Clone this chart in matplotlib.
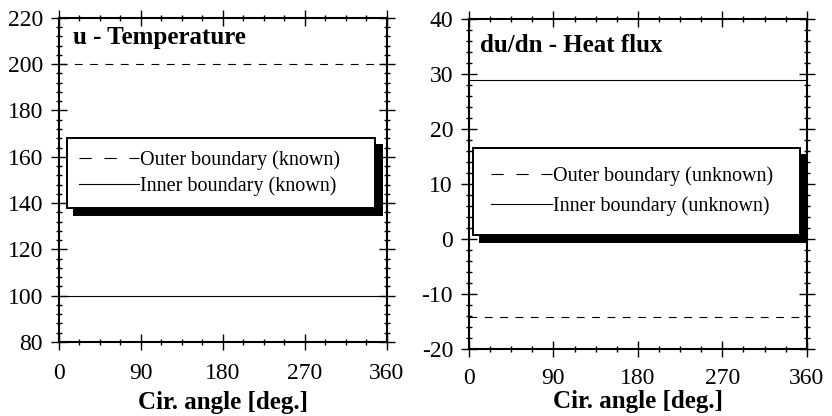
import matplotlib
matplotlib.use('Agg')
import matplotlib.pyplot as plt
from matplotlib.lines import Line2D
from matplotlib.ticker import MultipleLocator

plt.rcParams['font.family'] = ['Liberation Serif', 'DejaVu Serif']
plt.rcParams['axes.unicode_minus'] = False

# data
angle = [0, 360]
outer_u = [200, 200]
inner_u = [100, 100]
outer_q = [-14.2, -14.2]
inner_q = [29, 29]

x_ticks = [0, 90, 180, 270, 360]

fig = plt.figure(figsize=(8.32, 4.16), dpi=100)
ax1 = fig.add_axes([0.0709, 0.178, 0.394, 0.779])
ax2 = fig.add_axes([0.5637, 0.161, 0.406, 0.793])

TICK_FS = 17
LABEL_FS = 18
LEG_FS = 14.5


def style_axis(ax, ylim, ymajor, yminor, xpad, labelpad):
    ax.set_xlim(0, 360)
    ax.set_ylim(*ylim)
    ax.set_xticks(x_ticks)
    ax.xaxis.set_minor_locator(MultipleLocator(22.5))
    ax.yaxis.set_major_locator(MultipleLocator(ymajor))
    ax.yaxis.set_minor_locator(MultipleLocator(yminor))
    ax.tick_params(which='both', direction='inout', top=True, right=True,
                   labelsize=TICK_FS, width=1)
    ax.tick_params(which='major', length=11)
    ax.tick_params(which='minor', length=5)
    ax.tick_params(axis='x', which='major', pad=xpad)
    ax.tick_params(axis='y', which='major', pad=6)
    for s in ax.spines.values():
        s.set_linewidth(1.5)
    ax.set_xlabel("Cir. angle [deg.]", fontsize=LABEL_FS, fontweight='bold', labelpad=labelpad)


def boxed_legend(ax, labels, anchor, spacing, pad):
    # proxy handles: the legend dashes are longer than the plotted ones
    handles = [Line2D([], [], color='k', lw=0.8, dashes=(11, 11.5)),
               Line2D([], [], color='k', lw=0.8)]
    leg = ax.legend(handles, labels, loc='upper left', bbox_to_anchor=anchor, mode='expand',
                    fontsize=LEG_FS, handlelength=3.0, handletextpad=0.05,
                    labelspacing=spacing, borderpad=pad, borderaxespad=0,
                    fancybox=False, framealpha=1,
                    shadow={'ox': 5, 'oy': -5, 'facecolor': 'k', 'edgecolor': 'k', 'alpha': 1})
    leg.get_frame().set_edgecolor('k')
    leg.get_frame().set_linewidth(1.4)
    return leg


# left panel: temperature
ax1.plot(angle, outer_u, color='k', lw=0.8, dashes=(7, 6.8))
ax1.plot(angle, inner_u, color='k', lw=0.8)
style_axis(ax1, (80, 220), 20, 4, 10, 4.5)
ax1.text(0.043, 0.94, "u - Temperature", transform=ax1.transAxes, fontsize=LABEL_FS,
         fontweight='bold', va='center', ha='left')
boxed_legend(ax1, ["Outer boundary (known)", "Inner boundary (known)"],
             (0.024, 0.63, 0.94, 0.0), 0.35, 0.6)

# right panel: heat flux
ax2.plot(angle, outer_q, color='k', lw=0.8, dashes=(7, 6.8))
ax2.plot(angle, inner_q, color='k', lw=0.8)
style_axis(ax2, (-20, 40), 10, 2, 8, 1)
ax2.text(0.033, 0.92, "du/dn - Heat flux", transform=ax2.transAxes, fontsize=LABEL_FS,
         fontweight='bold', va='center', ha='left')
boxed_legend(ax2, ["Outer boundary (unknown)", "Inner boundary (unknown)"],
             (0.012, 0.61, 0.968, 0.0), 0.55, 0.9)

fig.savefig('out.png', dpi=100)
